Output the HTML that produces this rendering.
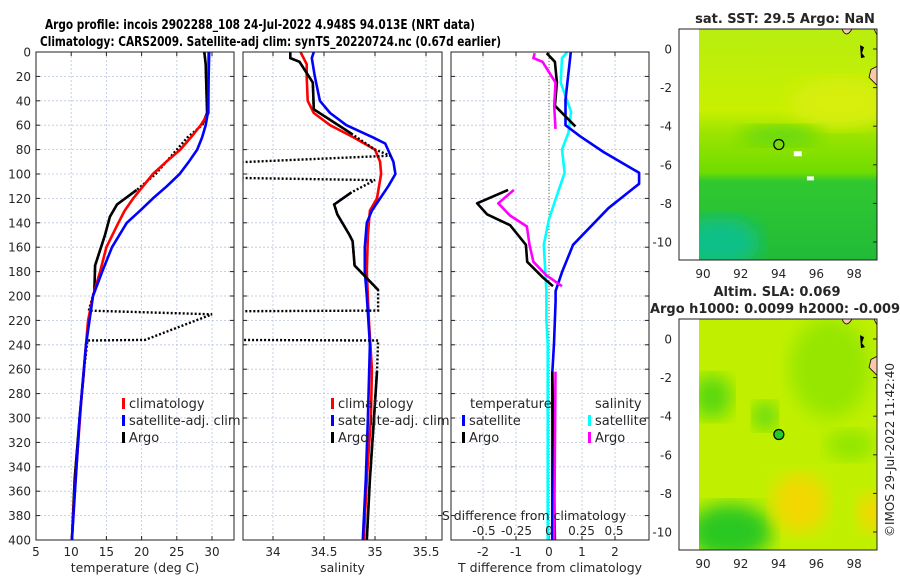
<!DOCTYPE html>
<html><head><meta charset="utf-8"><style>
body{margin:0;background:#fff}
svg text{font-family:"DejaVu Sans","Liberation Sans",sans-serif;fill:#262626}
</style></head><body>
<svg id="c" width="900" height="580" xmlns="http://www.w3.org/2000/svg">
<defs>
<clipPath id="cp1"><rect x="36" y="52" width="198" height="488"/></clipPath>
<clipPath id="cp2"><rect x="243" y="52" width="199" height="488"/></clipPath>
<clipPath id="cp3"><rect x="451" y="52" width="198" height="488"/></clipPath>
<clipPath id="cm1"><rect x="699" y="29" width="178" height="231"/></clipPath>
<clipPath id="cm2"><rect x="699" y="319" width="178" height="231"/></clipPath>
<filter id="bl"><feGaussianBlur stdDeviation="9"/></filter>
<linearGradient id="sstg" x1="0" y1="0" x2="0" y2="1">
<stop offset="0" stop-color="#b8ee10"/><stop offset="0.35" stop-color="#c8f000"/><stop offset="0.45" stop-color="#9ce400"/><stop offset="0.62" stop-color="#70dc00"/><stop offset="0.66" stop-color="#30c830"/><stop offset="1" stop-color="#22bb38"/></linearGradient>
</defs>
<g>
<text x="45" y="29" textLength="430" lengthAdjust="spacingAndGlyphs" style="font-weight:bold;font-size:13px;fill:#000">Argo profile: incois 2902288_108 24-Jul-2022 4.948S 94.013E (NRT data)</text>
<text x="40" y="46" textLength="461" lengthAdjust="spacingAndGlyphs" style="font-weight:bold;font-size:13px;fill:#000">Climatology: CARS2009. Satellite-adj clim: synTS_20220724.nc (0.67d earlier)</text>
</g>
<g id="p1"></g>
<g id="p2"></g>
<g id="p3"></g>
<g id="m1"></g>
<g id="m2"></g>
<text x="894" y="450" transform="rotate(-90 894 450)" text-anchor="middle" style="font-size:12px">©IMOS 29-Jul-2022 11:42:40</text>
</svg>
<script>
// ---- data ----
const depthTicks=[0,20,40,60,80,100,120,140,160,180,200,220,240,260,280,300,320,340,360,380,400];
const tempTicks=[5,10,15,20,25,30];
const salTicks=[34,34.5,35,35.5];
const salTickLabels=['34','34.5','35','35.5'];
const tdTicks=[-2,-1,0,1,2];
const sdTicks=[-0.5,-0.25,0,0.25,0.5];
const sdTickLabels=['-0.5','-0.25','0','0.25','0.5'];
const climDepth=[0,50,60,70,80,90,100,120,130,140,160,180,200,220,240,280,320,360,400];
const climTemp=[29.5,29.5,28.4,27,25.5,23.5,21.6,18.8,17.6,16.7,15,14.1,13.1,12.4,12.1,11.5,11,10.5,10.1];
const satDepth=[0,50,60,70,80,90,100,110,120,130,140,160,180,200,240,300,400];
const satTemp=[29.6,29.4,29.1,28.6,27.9,26.7,25.4,23.6,21.6,19.8,17.9,15.8,14.4,13.1,12.1,11.2,10.1];
const climSalDepth=[0,10,20,40,50,60,70,80,90,100,120,130,150,180,220,260,300,350,400];
const climSal=[34.27,34.33,34.33,34.34,34.4,34.56,34.79,35.0,35.05,35.06,35.02,34.95,34.93,34.92,34.94,34.97,34.96,34.92,34.89];
const satSalDepth=[0,5,20,40,50,60,70,75,90,100,110,120,130,140,160,180,200,240,300,350,400];
const satSal=[34.4,34.38,34.41,34.46,34.56,34.72,34.98,35.1,35.18,35.2,35.13,35.05,34.97,34.92,34.9,34.9,34.92,34.95,34.93,34.91,34.88];
const argoDepth=[0,10,50,60,70,80,90,100,113,125,135,150,175,195,212,215,236,236.5,262,300,350,400];
const argoTemp=[28.9,29.1,29.3,28.6,26.5,25,23.5,22,19.3,16.5,15.5,14.8,13.4,13.3,12.5,30,20.5,12.3,11.8,11.2,10.5,10.1];
const argoTempBad=[0,0,0,0,1,1,1,1,0,0,0,0,0,0,1,1,1,1,0,0,0,0];
const argoSalDepth=[0,5,8,25,47,67,80,85,91,103,105,115,125,133,150,155,175,195,212,212.5,236,236.5,262,300,350,400];
const argoSal=[34.17,34.17,34.26,34.39,34.4,34.77,35.0,35.15,33.5,33.5,35.0,34.77,34.6,34.63,34.75,34.78,34.8,35.03,35.03,33.5,33.5,35.03,35.02,34.99,34.95,34.92];
const argoSalBad=[0,0,0,0,0,0,1,1,1,1,1,0,0,0,0,0,0,0,1,1,1,1,0,0,0,0];
const dSatTDepth=[0,39,60,69,82,99,108,128,158,180,196,204,239,263,400];
const dSatT=[0.66,0.5,0.5,0.94,1.65,2.73,2.73,1.8,0.73,0.4,0.2,0.2,0.15,0.1,0.1];
const dArgoTDepth=[1,8,25,44,61,113,124,133,142,158,172,185,192,262,400];
const dArgoT=[-0.07,0.18,0.24,0.18,0.8,-1.24,-2.18,-1.88,-1.18,-0.7,-0.66,-0.18,0.12,0.1,0.18];
const dArgoTGap=[0,0,0,0,0,1,0,0,0,0,0,0,0,1,0];
const dSatSDepth=[0,5,25,49,66,80,99,121,137,158,196,220,239,284,400];
const dSatS=[0.14,0.1,0.09,0.17,0.15,0.1,0.12,0.05,0,-0.04,-0.02,-0.02,-0.01,-0.01,-0.01];
const dArgoSDepth=[1,5,8,25,44,63,113,124,134,143,158,172,183,192,262,400];
const dArgoS=[-0.11,-0.12,-0.05,0.05,0.04,0.05,-0.27,-0.39,-0.3,-0.17,-0.15,-0.12,-0.02,0.1,0.05,0.04];
const dArgoSGap=[0,0,0,0,0,0,1,0,0,0,0,0,0,0,1,0];
const latTicks=[0,-2,-4,-6,-8,-10];
const lonTicks=[90,92,94,96,98];
const argoLon=94.013, argoLat=-4.948;

// ---- scales ----
const NS='http://www.w3.org/2000/svg';
const yD=d=>52+d*1.22;
const xT=t=>36+(t-5)*7.04;
const xS=s=>273+(s-34)*102;
const xTD=v=>549+v*33;
const xSD=v=>549+v*130;
function el(tag,attrs,parent,txt){const e=document.createElementNS(NS,tag);for(const k in attrs)e.setAttribute(k,attrs[k]);if(txt!==undefined)e.textContent=txt;parent.appendChild(e);return e;}
function pts(xs,ds,fx,i0,i1){let a=[];for(let i=i0;i<=i1;i++)a.push(fx(xs[i]).toFixed(1)+','+yD(ds[i]).toFixed(1));return a.join(' ');}

function frame(g,x0,x1,xticks,fx,xlabels,showY,xtitle){
  for(const d of depthTicks){const l=el('line',{x1:x0,x2:x1,y1:yD(d),y2:yD(d),stroke:'#b8c4e0','stroke-width':0.8,'stroke-dasharray':'2,2'},g);
    
    el('line',{x1:x0,x2:x0+4,y1:yD(d),y2:yD(d),stroke:'#222'},g);el('line',{x1:x1-4,x2:x1,y1:yD(d),y2:yD(d),stroke:'#222'},g);
    if(showY){const t=el('text',{x:31,y:yD(d)+4.5,'text-anchor':'end','font-size':12},g,String(d));}}
  xticks.forEach((v,i)=>{const x=fx(v);const l=el('line',{x1:x,x2:x,y1:52,y2:540,stroke:'#b8c4e0','stroke-width':0.8,'stroke-dasharray':'2,2'},g);
    
    el('line',{x1:x,x2:x,y1:540,y2:536,stroke:'#222'},g);el('line',{x1:x,x2:x,y1:52,y2:56,stroke:'#222'},g);
    if(xlabels){const t=el('text',{x:x,y:556,'text-anchor':'middle','font-size':12},g,xlabels[i]);}});
  const t=el('text',{x:(x0+x1)/2,y:572,'text-anchor':'middle','font-size':12.5},g,xtitle);
}
function box(g,x0,x1){const r=el('rect',{x:x0,y:52,width:x1-x0,height:488,fill:'none',stroke:'#222','stroke-width':1},g);}
function series(g,vals,ds,fx,color,name,clip){const p=el('polyline',{points:pts(vals,ds,fx,0,vals.length-1),fill:'none',stroke:color,'stroke-width':2.6,'stroke-linejoin':'round','clip-path':clip},g);}
function argo(g,vals,ds,bad,fx,name,clip){
  const d=el('polyline',{points:pts(vals,ds,fx,0,vals.length-1),fill:'none',stroke:'#000','stroke-width':2.4,'stroke-dasharray':'2,2','clip-path':clip},g);
  
  let s=-1;for(let i=0;i<=vals.length;i++){const good=i<vals.length&&!bad[i];
    if(good&&s<0)s=i;if(!good&&s>=0){if(i-1>s){const p=el('polyline',{points:pts(vals,ds,fx,s,i-1),fill:'none',stroke:'#000','stroke-width':2.6,'clip-path':clip},g);}s=-1;}}
}
function gapSeries(g,vals,ds,gap,fx,color,name,clip){let s=0;for(let i=1;i<=vals.length;i++){if(i==vals.length||gap[i]){if(i-1>s){const p=el('polyline',{points:pts(vals,ds,fx,s,i-1),fill:'none',stroke:color,'stroke-width':2.6,'stroke-linejoin':'round','clip-path':clip},g);}s=i;}}}
function legend(g,x,y,items){items.forEach((it,i)=>{const yy=y+i*17;
  if(it[0]){const m=el('rect',{x:x,y:yy-9,width:3,height:11,fill:it[0]},g);}
  const t=el('text',{x:x+(it[0]?7:0),y:yy+1,'font-size':13},g,it[1]);});}

// panel 1
const p1=document.getElementById('p1');
frame(p1,36,234,tempTicks,xT,tempTicks.map(String),true,'temperature (deg C)');
argo(p1,argoTemp,argoDepth,argoTempBad,xT,'argo-temp-line','url(#cp1)');
series(p1,climTemp,climDepth,xT,'#ff0000','climatology-temp-line','url(#cp1)');
series(p1,satTemp,satDepth,xT,'#0000ff','satellite-temp-line','url(#cp1)');
legend(p1,122,407,[['#ff0000','climatology'],['#0000ff','satellite-adj. clim'],['#000','Argo']]);
box(p1,36,234);
// panel 2
const p2=document.getElementById('p2');
frame(p2,243,442,salTicks,xS,salTickLabels,false,'salinity');
series(p2,climSal,climSalDepth,xS,'#ff0000','climatology-salinity-line','url(#cp2)');
series(p2,satSal,satSalDepth,xS,'#0000ff','satellite-salinity-line','url(#cp2)');
argo(p2,argoSal,argoSalDepth,argoSalBad,xS,'argo-salinity-line','url(#cp2)');
legend(p2,331,407,[['#ff0000','climatology'],['#0000ff','satellite-adj. clim'],['#000','Argo']]);
box(p2,243,442);
// panel 3
const p3=document.getElementById('p3');
frame(p3,451,649,tdTicks,xTD,tdTicks.map(String),false,'T difference from climatology');
const zl=el('line',{x1:549,x2:549,y1:52,y2:540,stroke:'#556b2f','stroke-width':1,'stroke-dasharray':'1,2'},p3);
series(p3,dSatS,dSatSDepth,xSD,'#00ffff','salinity-satellite-diff-line','url(#cp3)');
series(p3,dSatT,dSatTDepth,xTD,'#0000ff','temperature-satellite-diff-line','url(#cp3)');
gapSeries(p3,dArgoT,dArgoTDepth,dArgoTGap,xTD,'#000','temperature-argo-diff-line','url(#cp3)');
gapSeries(p3,dArgoS,dArgoSDepth,dArgoSGap,xSD,'#ff00ff','salinity-argo-diff-line','url(#cp3)');
legend(p3,470,407,[[null,'temperature']]);legend(p3,462,424,[['#0000ff','satellite'],['#000','Argo']]);
legend(p3,595,407,[[null,'salinity']]);legend(p3,588,424,[['#00ffff','satellite'],['#ff00ff','Argo']]);
let st=el('text',{x:534,y:520,'text-anchor':'middle','font-size':12.5},p3,'S difference from climatology');
sdTicks.forEach((v,i)=>{const t=el('text',{x:xSD(v),y:535,'text-anchor':'middle','font-size':12},p3,sdTickLabels[i]);});
box(p3,451,649);

// maps
const xL=l=>703+(l-90)*18.9;
function map(g,top,sst){
  const y0=top+20, yLat=v=>y0+(-v)*19.3;
  const cp=sst?'url(#cm1)':'url(#cm2)';
  const gg=el('g',{'clip-path':cp},g);
  if(sst){el('rect',{x:699,y:top,width:178,height:231,fill:'url(#sstg)'},gg);
    el('ellipse',{cx:840,cy:yLat(-2.8),rx:50,ry:25,fill:'#d8ee10',filter:'url(#bl)'},gg);
    el('ellipse',{cx:720,cy:yLat(-10),rx:40,ry:25,fill:'#10c088',filter:'url(#bl)'},gg);
    el('ellipse',{cx:780,cy:yLat(-4.5),rx:40,ry:10,fill:'#60d810',filter:'url(#bl)'},gg);
    el('rect',{x:xL(94.8),y:yLat(-5.3),width:8,height:5,fill:'#fff'},gg);el('rect',{x:xL(95.5),y:yLat(-6.6),width:7,height:4,fill:'#fff'},gg);
  } else {el('rect',{x:699,y:top,width:178,height:231,fill:'#c0f000'},gg);
    [[712,-3,20,22,'#5ad810'],[765,-4,12,14,'#5ad810'],[730,-10,42,28,'#2cc824'],[830,-1.5,40,50,'#96e600'],[800,-8.5,28,30,'#f2d800'],[875,-9,18,20,'#f2d800'],[850,-5.5,25,15,'#90e600']].forEach(e=>
      el('ellipse',{cx:e[0],cy:yLat(e[1]),rx:e[2],ry:e[3],fill:e[4],filter:'url(#bl)'},gg));}
  el('path',{d:`M842 ${top} q4 10 10 0 Z M877 ${top} v6 l-3 -6 Z M877 ${yLat(-0.9)} l-6 3 l-2 8 l8 8 Z`,fill:'#f9c8a8',stroke:'#000','stroke-width':0.8},gg);
  el('path',{d:`M860 ${yLat(0.2)} l4 2 l-2 6 l3 4 l-4 1 Z`,fill:'#000'},gg);
  const c=el('circle',{cx:xL(argoLon),cy:yLat(argoLat),r:5,fill:sst?'none':'#22cc22',stroke:'#000','stroke-width':1.2},g);
  el('rect',{x:679,y:top,width:198,height:231,fill:'none',stroke:'#222'},g);
  latTicks.forEach(v=>{const t=el('text',{x:672,y:yLat(v)+4.5,'text-anchor':'end','font-size':12},g,String(v));
    el('line',{x1:877,x2:873,y1:yLat(v),y2:yLat(v),stroke:'#222'},g);});
  lonTicks.forEach(v=>{const t=el('text',{x:xL(v),y:top+249,'text-anchor':'middle','font-size':12},g,String(v));});
}
const m1=document.getElementById('m1'),m2=document.getElementById('m2');
map(m1,29,true);map(m2,319,false);
let tt=el('text',{x:785,y:23,'text-anchor':'middle','font-size':13,'font-weight':'bold',fill:'#000'},m1,'sat. SST: 29.5 Argo: NaN');
tt=el('text',{x:777,y:296,'text-anchor':'middle','font-size':13,'font-weight':'bold'},m2,'Altim. SLA: 0.069');
tt=el('text',{x:775,y:313,'text-anchor':'middle','font-size':13,'font-weight':'bold',textLength:250,lengthAdjust:'spacingAndGlyphs'},m2,'Argo h1000: 0.0099 h2000: -0.009');
</script>
</body></html>
